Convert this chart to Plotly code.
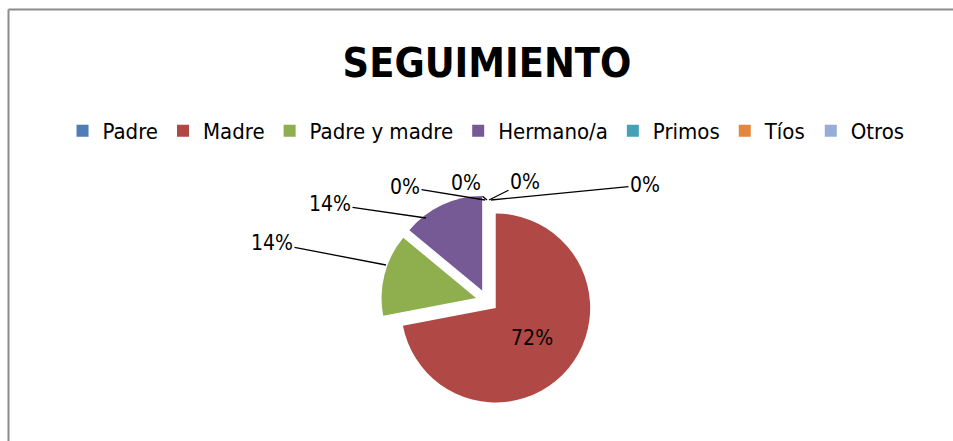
import plotly.graph_objects as go

categories = ["Padre", "Madre", "Padre y madre", "Hermano/a", "Primos", "Tíos", "Otros"]
values = [0, 72, 14, 14, 0, 0, 0]
colors = ["#4F7DB5", "#B04845", "#8FAE4E", "#765A96", "#45A0B8", "#E3873E", "#97ACD6"]

total = sum(values)
pct_text = [f"{round(v / total * 100)}%" for v in values]

FONT = "DejaVu Sans Condensed, Liberation Sans Narrow, Arial Narrow, sans-serif"
W, H = 953, 441


def px(x, y):
    return x / W, 1 - y / H


# Inside label only for the dominant slice; others get leader-line callouts.
inside_text = [t if v / total > 0.5 else "" for t, v in zip(pct_text, values)]

fig = go.Figure()
fig.add_trace(go.Pie(
    labels=categories,
    values=values,
    sort=False,
    direction="clockwise",
    rotation=0,
    marker=dict(colors=colors, line=dict(color="white", width=0)),
    pull=[0.12] * len(values),
    text=inside_text,
    textinfo="text",
    textposition="inside",
    insidetextorientation="horizontal",
    textfont=dict(family=FONT, size=21, color="black"),
    hoverinfo="label+value+percent",
    domain=dict(x=[0.400, 0.622], y=[0.078, 0.558]),
))

# callout placement (label centre, leader-line target) per category index
callouts = {
    0: ((645, 185), (491, 200)),
    2: ((272, 243), (386, 265)),
    3: ((330, 204), (426, 218)),
    4: ((405, 187), (485, 200)),
    5: ((466, 183), (487, 200)),
    6: ((525, 182), (489, 200)),
}
annotations = []
for i, ((tx, ty), (px_, py_)) in callouts.items():
    x, y = px(px_, py_)
    annotations.append(dict(
        text=pct_text[i], x=x, y=y, xref="paper", yref="paper",
        ax=tx - px_, ay=ty - py_, axref="pixel", ayref="pixel",
        showarrow=True, arrowhead=0, arrowwidth=1.3, arrowcolor="black",
        font=dict(family=FONT, size=21, color="black"),
    ))

fig.update_layout(
    width=W,
    height=H,
    margin=dict(l=0, r=0, t=0, b=0),
    paper_bgcolor="white",
    title=dict(text="<b>SEGUIMIENTO</b>", x=0.511, xanchor="center", y=0.859, yanchor="middle",
               font=dict(family=FONT, size=41, color="black")),
    legend=dict(orientation="h", x=0.51, xanchor="center", y=0.703, yanchor="middle",
                font=dict(family=FONT, size=22, color="black"), traceorder="normal"),
    annotations=annotations,
    shapes=[
        dict(type="line", xref="paper", yref="paper", x0=8.5 / W, x1=1.2, y0=1 - 9.5 / H, y1=1 - 9.5 / H,
             line=dict(color="#8c8c8c", width=2)),
        dict(type="line", xref="paper", yref="paper", x0=8.5 / W, x1=8.5 / W, y0=-0.2, y1=1 - 9.5 / H,
             line=dict(color="#8c8c8c", width=2)),
    ],
)

fig.write_html(
    "out.html",
    config={"displayModeBar": False},
    post_script="document.body.style.margin='0';document.body.style.overflow='hidden';",
)
